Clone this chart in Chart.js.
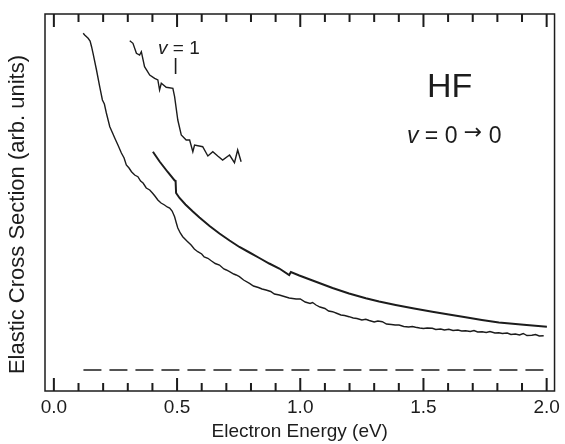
<!DOCTYPE html>
<html><head><meta charset="utf-8">
<script src="https://cdn.jsdelivr.net/npm/chart.js@4/dist/chart.umd.min.js"></script>
<style>html,body{margin:0;padding:0;background:#fff}</style>
</head><body>
<canvas id="c" width="565" height="444"></canvas>
<script>
// x tick labels (eV)
const xTickValues = [0, 0.5, 1.0, 1.5, 2.0];
// minor tick positions (eV)
const xMinorTicks = [0,0.1,0.2,0.3,0.4,0.5,0.6,0.7,0.8,0.9,1.0,1.1,1.2,1.3,1.4,1.5,1.6,1.7,1.8,1.9,2.0];

// Experimental v = 0 -> 0 elastic cross section (noisy lower curve)
const expEnergy = [0.119,0.125,0.139,0.147,0.153,0.159,0.173,0.186,0.197,0.205,
  0.213,0.227,0.240,0.247,0.260,0.274,0.285,0.294,0.305,0.315,
  0.328,0.341,0.352,0.362,0.375,0.389,0.400,0.410,0.422,0.435,
  0.449,0.460,0.470,0.480,0.490,0.497,0.503,0.513,0.523,0.540,
  0.557,0.570,0.584,0.600,0.610,0.625,0.640,0.655,0.672,0.690,
  0.700,0.713,0.730,0.740,0.753,0.770,0.794,0.810,0.830,0.845,
  0.861,0.880,0.895,0.915,0.935,0.955,0.983,1.000,1.020,1.040,
  1.050,1.064,1.080,1.100,1.115,1.131,1.150,1.165,1.180,1.198,
  1.215,1.230,1.250,1.266,1.280,1.300,1.315,1.333,1.350,1.370,
  1.385,1.401,1.420,1.440,1.455,1.468,1.485,1.500,1.515,1.536,
  1.550,1.570,1.585,1.603,1.620,1.640,1.655,1.671,1.690,1.705,
  1.720,1.738,1.755,1.770,1.790,1.806,1.820,1.840,1.855,1.873,
  1.890,1.905,1.920,1.940,1.955,1.970,1.988];
const expSigma = [357.7,356,352.7,350,344.3,337.7,321,304.3,291,287,
  278,264.3,257,253,246,238,233,226,223,219.3,
  216,214.3,210,208,203,201,198,195,191,188,
  186,184,183,180,174.3,168,163,158,154.3,150,
  146,142,139.3,137,134,132.7,130,127.5,126,122,
  121,119.3,117,116,114.3,111,107.7,105,103.5,102,
  101,99.5,97,96,94.5,93,92,92,89,87.5,
  88.5,86,84,82.5,80,79.3,77.5,76,75.5,74.3,
  73,72.5,71,71.7,70.5,69,70,69.3,67,66.5,
  66,66,64.5,64,64.5,63.7,63,62.5,63,62.7,
  61.5,62,61,61.7,60.5,61,60,60.3,59.5,60.5,
  59,59.3,58.5,59.5,58,58.3,57.5,58,56.5,57,
  56,57.5,55.5,55.7,56.5,55,55.3];

// Theory (smooth upper curve)
const theoryEnergy = [0.402,0.429,0.462,0.490,0.494,0.496,0.510,0.534,0.564,0.591,
  0.632,0.672,0.713,0.753,0.794,0.834,0.874,0.915,0.955,0.962,
  0.996,1.050,1.131,1.198,1.266,1.320,1.387,1.462,1.536,1.603,
  1.671,1.737,1.806,1.907,2.001];
const theorySigma = [239.3,229.5,219,210.5,210,198,193,186.5,179.5,173.5,
  165,157.5,150.5,144,138.5,133,127.5,122.5,116,119,
  115.5,110.5,103,97.5,92.7,89.5,86,82.5,79.3,76.5,
  73.7,71,68.5,66.2,64.3];

// Curve near v = 1 threshold (upper short noisy curve)
const v1Energy = [0.308,0.321,0.335,0.348,0.355,0.368,0.389,0.409,0.422,0.429,
  0.436,0.456,0.483,0.490,0.503,0.517,0.537,0.551,0.564,0.571,
  0.604,0.625,0.645,0.665,0.685,0.713,0.733,0.746,0.760];
const v1Sigma = [350.3,347.7,337.7,336,339.3,324.3,316,312.7,311,301,
  307.7,303.7,302.7,294.3,271,256,251,251,239.3,246,
  244.3,235,239.3,235,231,236,228.3,241,229.3];

// Zero level (dashed)
const baseEnergy = [0.12, 2.0];
const baseSigma = [21, 21];

// v = 1 threshold marker
const markerEnergy = [0.494, 0.494];
const markerSigma = [333, 317];

const FONT = '"Liberation Sans", Arial, Helvetica, sans-serif';
const INK = '#1c1c1c';
function pts(xs, ys){ return xs.map((x,i)=>({x:x, y:ys[i]})); }

function drawRuns(ctx, x0, yb, runs){
  let x = x0;
  runs.forEach(r => {
    ctx.font = r.font;
    ctx.fillText(r.t, x + (r.dx||0), yb + (r.dy||0));
    x += ctx.measureText(r.t).width + (r.dx||0);
  });
}

const framePlugin = {
  id: 'frame',
  afterDraw(chart){
    const ctx = chart.ctx;
    const a = chart.chartArea;
    const xs = chart.scales.x, ys = chart.scales.y;
    ctx.save();
    ctx.setLineDash([]);
    ctx.globalAlpha = 1;
    ctx.strokeStyle = INK;
    ctx.fillStyle = INK;
    ctx.lineWidth = 1.5;
    ctx.strokeRect(a.left, a.top, a.right - a.left, a.bottom - a.top);
    // tick marks, pointing inward, on bottom and top edges
    ctx.lineWidth = 2;
    ctx.lineCap = 'butt';
    ctx.beginPath();
    xMinorTicks.forEach((v, i) => {
      const px = xs.getPixelForValue(v);
      const len = (i % 5 === 0) ? 13 : 8;
      ctx.moveTo(px, a.bottom);
      ctx.lineTo(px, a.bottom - len);
      ctx.moveTo(px, a.top);
      ctx.lineTo(px, a.top + len);
    });
    ctx.stroke();
    // y-axis title
    ctx.save();
    ctx.translate(18, (a.top + a.bottom) / 2 + 12);
    ctx.rotate(-Math.PI / 2);
    ctx.textAlign = 'center';
    ctx.textBaseline = 'middle';
    ctx.font = '22px ' + FONT;
    ctx.fillText('Elastic Cross Section (arb. units)', 0, 0);
    ctx.restore();
    // annotations
    ctx.textBaseline = 'alphabetic';
    ctx.textAlign = 'left';
    drawRuns(ctx, xs.getPixelForValue(0.423), ys.getPixelForValue(337), [
      {t:'v', font:'italic 19px ' + FONT},
      {t:' = 1', font:'19px ' + FONT}
    ]);
    drawRuns(ctx, xs.getPixelForValue(1.514), ys.getPixelForValue(294.3), [
      {t:'HF', font:'34px ' + FONT}
    ]);
    drawRuns(ctx, xs.getPixelForValue(1.433), ys.getPixelForValue(247.7), [
      {t:'v', font:'italic 23px ' + FONT},
      {t:' = 0 ', font:'23px ' + FONT},
      {t:'\u2192', font:'22px "DejaVu Sans", sans-serif', dy:-4},
      {t:' 0', font:'23px ' + FONT}
    ]);
    ctx.restore();
  }
};

const lineDs = (xs, ys, w, extra) => Object.assign({
  data: pts(xs, ys), showLine: true, borderColor: INK, backgroundColor: INK,
  borderWidth: w, pointRadius: 0, tension: 0, fill: false
}, extra || {});

new Chart(document.getElementById('c'), {
  type: 'scatter',
  data: { datasets: [
    lineDs(expEnergy, expSigma, 1.4),
    lineDs(theoryEnergy, theorySigma, 2),
    lineDs(v1Energy, v1Sigma, 1.4),
    lineDs(baseEnergy, baseSigma, 1.6, {borderDash:[18,8]}),
    lineDs(markerEnergy, markerSigma, 1.6)
  ]},
  options: {
    responsive: false, animation: false, events: [],
    layout: { padding: { top: 14, right: 9, left: 0, bottom: 0 } },
    plugins: { legend: { display: false }, tooltip: { enabled: false } },
    scales: {
      x: {
        type: 'linear', min: -0.036, max: 2.032, position: 'bottom',
        grid: { display: false, drawTicks: false }, border: { display: false },
        afterBuildTicks: s => { s.ticks = xTickValues.map(v => ({value: v})); },
        ticks: { font: { family: FONT, size: 19 }, color: INK, padding: 5,
                 maxRotation: 0, autoSkip: false,
                 callback: v => Number(v).toFixed(1) },
        title: { display: true, text: 'Electron Energy (eV)',
                 font: { family: FONT, size: 19 }, color: INK,
                 padding: { top: 0, bottom: 1 } },
        afterFit: s => { s.height = 53; }
      },
      y: {
        type: 'linear', min: 0, max: 377, position: 'left',
        grid: { display: false, drawTicks: false }, border: { display: false },
        ticks: { display: false },
        title: { display: false },
        afterFit: s => { s.width = 45; }
      }
    }
  },
  plugins: [framePlugin]
});
</script>
</body></html>
